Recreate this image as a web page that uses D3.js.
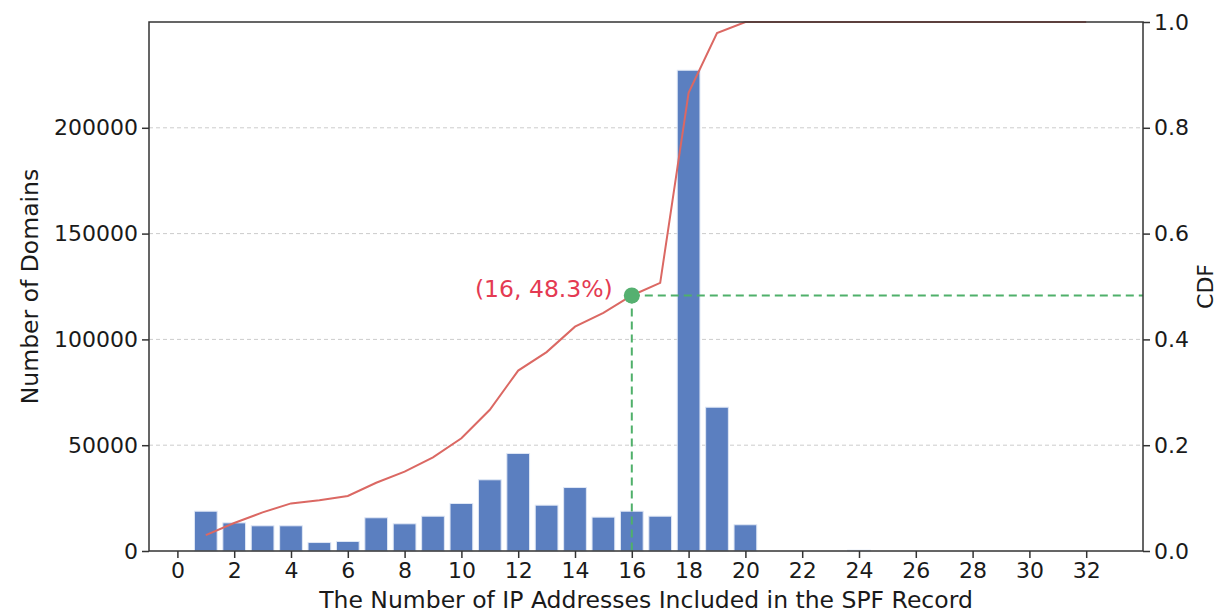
<!DOCTYPE html>
<html>
<head>
<meta charset="utf-8">
<script src="https://cdn.jsdelivr.net/npm/d3@7"></script>
<style>
  html, body { margin: 0; padding: 0; background: #fff; }
  svg { display: block; font-family: "DejaVu Sans", sans-serif; }
</style>
</head>
<body>
<svg id="chart" width="1217" height="613"></svg>
<script>
// Number of IP addresses per SPF record and how many domains use each count
const ipCounts = [1, 2, 3, 4, 5, 6, 7, 8, 9, 10, 11, 12, 13, 14, 15, 16, 17, 18, 19, 20, 24];
const domainCounts = [18800, 13300, 11900, 11900, 4000, 4500, 15700, 12850, 16450, 22450,
                      33650, 46100, 21650, 30000, 16000, 18800, 16450, 227200, 67950, 12400, 400];

// Cumulative share of domains
const cdfX = [1, 2, 3, 4, 5, 6, 7, 8, 9, 10, 11, 12, 13, 14, 15, 16,
              17, 18, 19, 20, 21, 22, 23, 24, 25, 26, 27, 28, 29, 30, 31, 32];
const cdfValues = [0.030, 0.053, 0.073, 0.090, 0.096, 0.104, 0.129, 0.150, 0.177, 0.213,
                   0.267, 0.341, 0.376, 0.424, 0.450, 0.483, 0.507, 0.866, 0.979, 1.0,
                   1.0, 1.0, 1.0, 1.0, 1.0, 1.0, 1.0, 1.0, 1.0, 1.0, 1.0, 1.0];

// Highlighted point
const markX = 16;
const markCdf = 0.483;
const markLabel = "(16, 48.3%)";

// Tick labels
const xTicks = d3.range(0, 33, 2);
const leftTicks = [0, 50000, 100000, 150000, 200000];
const rightTicks = [0, 0.2, 0.4, 0.6, 0.8, 1.0];

const svg = d3.select("#chart");
const m = { left: 149, right: 1143, top: 22, bottom: 551 };

const x = d3.scaleLinear().domain([-1, 34]).range([m.left, m.right]);
const yL = d3.scaleLinear().domain([0, 250000]).range([m.bottom, m.top]);
const yR = d3.scaleLinear().domain([0, 1]).range([m.bottom, m.top]);

const tickFont = 22;
const labelFont = 23.5;
const axisColor = "#333";

// Horizontal grid lines at the left-axis ticks
svg.append("g")
  .selectAll("line")
  .data(leftTicks.filter(d => d > 0))
  .join("line")
  .attr("x1", m.left).attr("x2", m.right)
  .attr("y1", d => yL(d)).attr("y2", d => yL(d))
  .attr("stroke", "#cccccc")
  .attr("stroke-width", 1)
  .attr("stroke-dasharray", "4,3");

// Bars
const barWidth = x(0.8) - x(0);
svg.append("g")
  .selectAll("rect")
  .data(ipCounts.map((c, i) => ({ c, v: domainCounts[i] })))
  .join("rect")
  .attr("x", d => x(d.c) - barWidth / 2)
  .attr("y", d => yL(d.v))
  .attr("width", barWidth)
  .attr("height", d => yL(0) - yL(d.v))
  .attr("fill", "#5b7fc0")
  .attr("stroke", "#dfe7f5")
  .attr("stroke-width", 1);

// CDF line
const line = d3.line()
  .x((d, i) => x(cdfX[i]))
  .y(d => yR(d));
svg.append("path")
  .datum(cdfValues)
  .attr("d", line)
  .attr("fill", "none")
  .attr("stroke", "#db6863")
  .attr("stroke-width", 2);

// Guide lines to the highlighted point
svg.append("line")
  .attr("x1", x(markX)).attr("x2", x(markX))
  .attr("y1", yR(markCdf)).attr("y2", yR(0))
  .attr("stroke", "#4fb06a").attr("stroke-width", 2)
  .attr("stroke-dasharray", "8,5");
svg.append("line")
  .attr("x1", x(markX)).attr("x2", m.right)
  .attr("y1", yR(markCdf)).attr("y2", yR(markCdf))
  .attr("stroke", "#4fb06a").attr("stroke-width", 2)
  .attr("stroke-dasharray", "8,5");

svg.append("circle")
  .attr("cx", x(markX)).attr("cy", yR(markCdf))
  .attr("r", 8)
  .attr("fill", "#55b070");

svg.append("text")
  .attr("x", x(markX) - 19)
  .attr("y", yR(markCdf) + 2)
  .attr("text-anchor", "end")
  .attr("fill", "#e43a52")
  .attr("font-size", labelFont)
  .text(markLabel);

// Axes
function styleAxis(g) {
  g.selectAll("path.domain").remove();
  g.selectAll(".tick line").attr("stroke", axisColor).attr("stroke-width", 1.5);
  g.selectAll(".tick text")
    .attr("fill", "#1a1a1a")
    .attr("font-size", tickFont)
    .attr("font-family", "DejaVu Sans, sans-serif");
}

svg.append("g")
  .attr("transform", `translate(0,${m.bottom})`)
  .call(d3.axisBottom(x).tickValues(xTicks).tickSize(7).tickPadding(4).tickFormat(d3.format("d")))
  .call(styleAxis);

svg.append("g")
  .attr("transform", `translate(${m.left},0)`)
  .call(d3.axisLeft(yL).tickValues(leftTicks).tickSize(7).tickPadding(4).tickFormat(d3.format("d")))
  .call(styleAxis);

svg.append("g")
  .attr("transform", `translate(${m.right},0)`)
  .call(d3.axisRight(yR).tickValues(rightTicks).tickSize(7).tickPadding(4).tickFormat(d3.format(".1f")))
  .call(styleAxis);

// Frame
svg.append("rect")
  .attr("x", m.left).attr("y", m.top)
  .attr("width", m.right - m.left).attr("height", m.bottom - m.top)
  .attr("fill", "none")
  .attr("stroke", axisColor)
  .attr("stroke-width", 1.5);

// Axis titles
svg.append("text")
  .attr("x", (m.left + m.right) / 2)
  .attr("y", 608)
  .attr("text-anchor", "middle")
  .attr("font-size", labelFont)
  .attr("fill", "#1a1a1a")
  .text("The Number of IP Addresses Included in the SPF Record");

svg.append("text")
  .attr("transform", `translate(38,${(m.top + m.bottom) / 2}) rotate(-90)`)
  .attr("text-anchor", "middle")
  .attr("font-size", labelFont)
  .attr("fill", "#1a1a1a")
  .text("Number of Domains");

svg.append("text")
  .attr("transform", `translate(1213,${(m.top + m.bottom) / 2}) rotate(-90)`)
  .attr("text-anchor", "middle")
  .attr("font-size", tickFont)
  .attr("fill", "#1a1a1a")
  .text("CDF");
</script>
</body>
</html>
